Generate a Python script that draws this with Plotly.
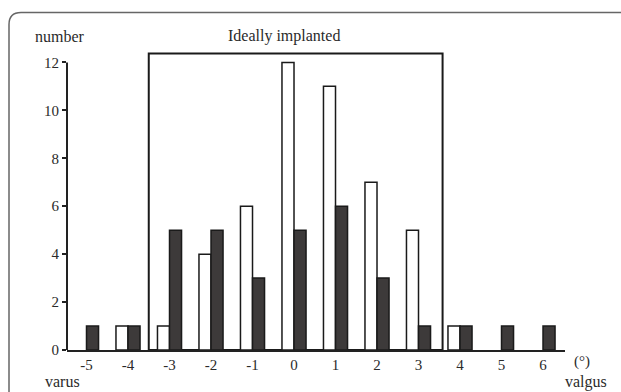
import plotly.graph_objects as go

# Data
angles = [-5, -4, -3, -2, -1, 0, 1, 2, 3, 4, 5, 6]
tick_labels = ["-5", "-4", "-3", "-2", "-1", "0", "1", "2", "3", "4", "5", "6"]
white_counts = [0, 1, 1, 4, 6, 12, 11, 7, 5, 1, 0, 0]
dark_counts = [1, 1, 5, 5, 3, 5, 6, 3, 1, 1, 1, 1]
y_ticks = [0, 2, 4, 6, 8, 10, 12]
ideal_range = [-3.5, 3.58]
ideal_top = 12.375

W, H = 621, 392
L, R, T, B = 67, 56, 47.6, 42
pw, ph = W - L - R, H - T - B

def px(x):
    return (x - L) / pw

def py(y):
    return (H - B - y) / ph

FONT = "Liberation Serif"
TXT = "#2a2a2a"

def edge_widths(vals):
    return [0 if v == 0 else 1.5 for v in vals]

fig = go.Figure()
fig.add_trace(go.Bar(x=angles, y=white_counts,
                     marker=dict(color="white", line=dict(color="#1a1a1a", width=edge_widths(white_counts))),
                     offsetgroup="a", showlegend=False))
fig.add_trace(go.Bar(x=angles, y=dark_counts,
                     marker=dict(color="#3d3a3a", line=dict(color="#1a1a1a", width=edge_widths(dark_counts))),
                     offsetgroup="b", showlegend=False))

fig.update_layout(
    width=W, height=H,
    margin=dict(l=L, r=R, t=T, b=B),
    paper_bgcolor="white", plot_bgcolor="white",
    barmode="group", bargap=0.42, bargroupgap=0,
    font=dict(family=FONT, size=15, color=TXT),
    xaxis=dict(range=[-5.47, 6.53], tickvals=angles, ticktext=tick_labels, showline=True, linewidth=2,
               linecolor="#222", ticks="", showgrid=False, zeroline=False, tickfont=dict(size=15)),
    yaxis=dict(range=[0, 12.6], tickvals=y_ticks, showline=False, ticks="outside", ticklen=4,
               tickwidth=2, tickcolor="#222", showgrid=False, zeroline=False, tickfont=dict(size=15)),
)

# y axis line from 0 to 12
fig.add_shape(type="line", xref="paper", yref="y", x0=0, x1=0, y0=0, y1=max(y_ticks),
              line=dict(color="#222", width=2))
# Ideally implanted box
fig.add_shape(type="rect", xref="x", yref="y", x0=ideal_range[0], x1=ideal_range[1], y0=0, y1=ideal_top,
              line=dict(color="#1a1a1a", width=2), layer="below")

# rounded border (top-left corner; continues off the right and bottom edges)
lx, ty = px(9), py(12)
rx_, by_ = px(W + 2), py(H + 2)
cx, cy = 12 / pw, 12 / ph
path = (f"M {lx},{by_} L {lx},{ty - cy} Q {lx},{ty} {lx + cx},{ty} L {rx_},{ty}")
fig.add_shape(type="path", xref="paper", yref="paper", path=path, line=dict(color="#666", width=1.5))

def ann(text, x, y, size=16):
    fig.add_annotation(text=text, xref="paper", yref="paper", x=px(x), y=py(y), showarrow=False,
                       xanchor="center", yanchor="middle", font=dict(family=FONT, size=size, color=TXT))

ann("number", 60, 36)
ann("Ideally implanted", 284, 36)
ann("varus", 62, 382)
ann("valgus", 586, 382)
ann("(°)", 582, 362, 15)

fig.write_html("out.html", config={"displayModeBar": False},
               post_script="document.body.style.margin='0';document.body.style.overflow='hidden';")
